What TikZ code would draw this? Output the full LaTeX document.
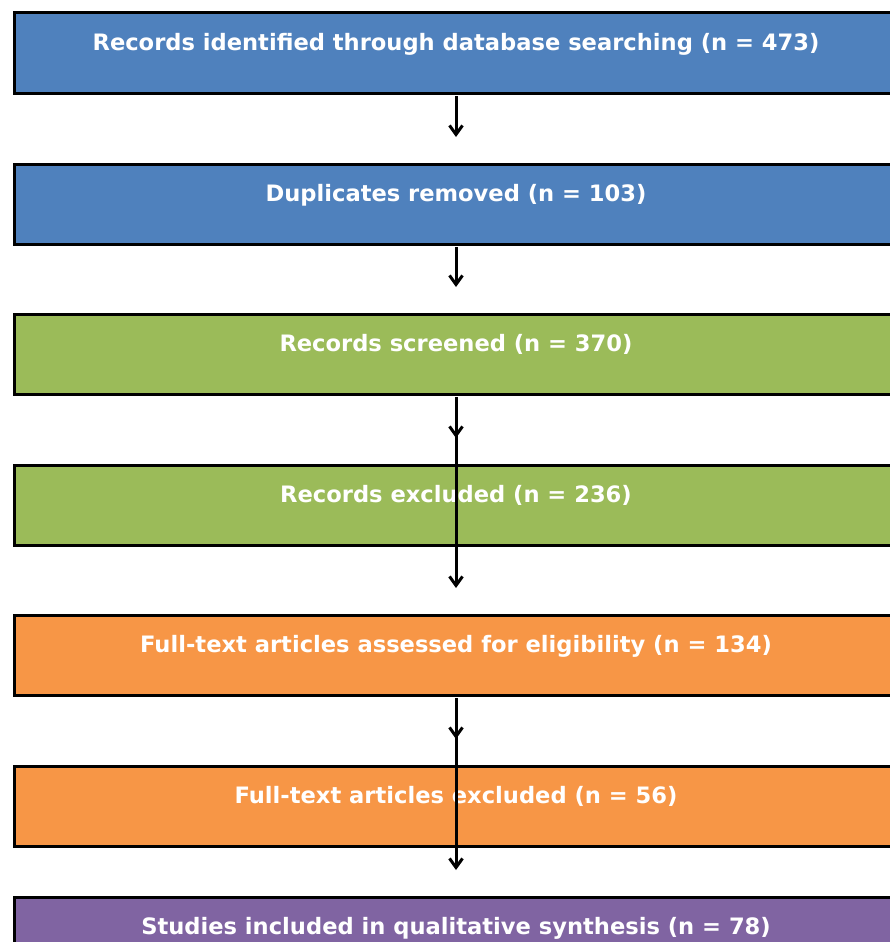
\documentclass[tikz,border=0pt]{standalone}
\usepackage{fontspec}
\setmainfont{DejaVu Sans}
\usetikzlibrary{arrows.meta}
\definecolor{cblue}{HTML}{4F81BD}
\definecolor{cgreen}{HTML}{9BBB59}
\definecolor{corange}{HTML}{F79646}
\definecolor{cpurple}{HTML}{8064A2}
\tikzset{
  stagebox/.style={draw=black, line width=3pt, rectangle, inner sep=0pt, outer sep=0pt,
    minimum width=884pt, minimum height=80pt, anchor=north west,
    text=white, font=\bfseries\fontsize{22.6}{26}\selectfont,
    text height=6pt, text depth=11pt},
  flow/.style={line width=3pt, -{Straight Barb[length=9pt,width=13pt,line width=3pt]}},
}
\begin{document}
\begin{tikzpicture}[x=1pt,y=-1pt]
\useasboundingbox (0,0) rectangle (890,942);
\node[stagebox, fill=cblue] (b1) at (14,13) {Records identified through database searching (n = 473)};
\node[stagebox, fill=cblue] (b2) at (14,164) {Duplicates removed (n = 103)};
\node[stagebox, fill=cgreen] (b3) at (14,314) {Records screened (n = 370)};
\node[stagebox, fill=cgreen] (b4) at (14,465) {Records excluded (n = 236)};
\node[stagebox, fill=corange] (b5) at (14,615) {Full-text articles assessed for eligibility (n = 134)};
\node[stagebox, fill=corange] (b6) at (14,766) {Full-text articles excluded (n = 56)};
\node[stagebox, fill=cpurple] (b7) at (14,897) {Studies included in qualitative synthesis (n = 78)};
\draw[flow] ([yshift=-3pt]b1.south) -- ([yshift=27pt]b2.north);
\draw[flow] ([yshift=-3pt]b2.south) -- ([yshift=27pt]b3.north);
\draw[flow] ([yshift=-3pt]b3.south) -- ([yshift=27pt]b4.north);
\draw[flow] ([yshift=-3pt]b3.south) -- ([yshift=27pt]b5.north);
\draw[flow] ([yshift=-3pt]b5.south) -- ([yshift=27pt]b6.north);
\draw[flow] ([yshift=-3pt]b5.south) -- ([yshift=27pt]b7.north);
\end{tikzpicture}
\end{document}
